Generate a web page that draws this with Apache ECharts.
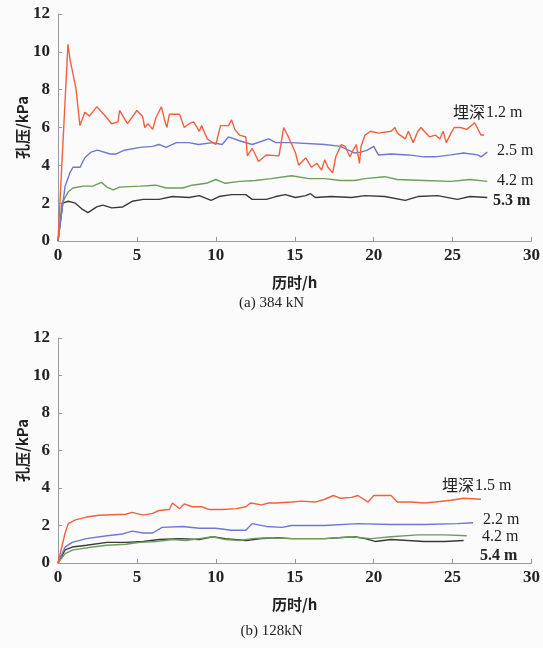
<!DOCTYPE html>
<html><head><meta charset="utf-8">
<script src="https://cdn.jsdelivr.net/npm/echarts@6/dist/echarts.min.js"></script>
<style>html,body{margin:0;padding:0;background:#fbfbfb}#c{width:543px;height:648px}</style>
</head><body><div id="c"></div>
<script>
// (a) 384 kN  — [time h, pore pressure kPa]
const a_12m = [[0,0],[0.63,10.4],[0.76,9.6],[1.13,8.1],[1.39,6.1],[1.7,6.8],[2.0,6.6],[2.46,7.1],[2.9,6.7],[3.4,6.2],[3.8,6.3],[3.9,6.9],[4.4,6.2],[5.0,6.9],[5.35,6.6],[5.5,6.0],[5.7,6.2],[6.0,5.9],[6.2,6.5],[6.55,7.1],[6.75,6.4],[6.9,6.0],[7.05,6.7],[7.7,6.7],[8.0,6.0],[8.3,6.2],[8.6,6.3],[8.95,5.8],[9.1,6.1],[9.45,5.4],[10.0,5.1],[10.3,6.1],[10.8,6.1],[11.0,6.4],[11.2,5.9],[11.5,5.6],[11.9,5.5],[12.0,4.5],[12.3,4.9],[12.6,4.4],[12.7,4.2],[13.2,4.55],[14.0,4.5],[14.3,6.0],[14.6,5.5],[15.05,4.65],[15.25,4.0],[15.7,4.4],[16.05,3.9],[16.4,4.1],[16.7,3.75],[16.9,4.3],[17.1,3.9],[17.4,3.6],[17.6,4.45],[17.95,5.1],[18.2,5.0],[18.5,4.45],[18.7,4.8],[18.9,5.1],[19.1,4.1],[19.2,5.0],[19.45,5.6],[19.8,5.8],[20.3,5.7],[21.1,5.8],[21.35,6.0],[21.5,5.7],[22.0,5.4],[22.2,5.8],[22.5,5.2],[22.8,5.8],[23.0,6.0],[23.2,5.8],[23.55,5.5],[23.9,5.6],[24.2,5.4],[24.4,5.8],[24.6,5.2],[24.9,5.7],[25.1,6.0],[25.5,6.0],[25.9,5.9],[26.4,6.25],[26.8,5.6],[27.0,5.6]];
const a_25m = [[0,0],[0.45,2.9],[0.75,3.6],[0.95,3.9],[1.4,3.9],[1.7,4.4],[2.1,4.7],[2.5,4.8],[3.3,4.6],[3.7,4.6],[4.2,4.8],[5.2,4.95],[6.0,5.0],[6.4,5.1],[6.85,4.95],[7.5,5.2],[8.3,5.2],[8.9,5.1],[9.8,5.2],[10.4,5.1],[10.8,5.5],[11.5,5.3],[12.3,5.1],[13.35,5.4],[13.8,5.2],[14.8,5.2],[16.9,5.1],[17.9,5.0],[18.8,4.65],[19.2,4.7],[19.6,4.8],[20.0,5.0],[20.3,4.55],[21.1,4.6],[22.2,4.55],[23.2,4.45],[23.9,4.45],[24.9,4.55],[25.7,4.65],[26.6,4.55],[26.8,4.45],[27.2,4.7]];
const a_42m = [[0,0],[0.25,2.0],[0.65,2.6],[0.95,2.8],[1.6,2.9],[2.2,2.9],[2.75,3.1],[3.1,2.85],[3.5,2.7],[3.9,2.85],[5.2,2.9],[6.2,2.95],[6.85,2.8],[7.9,2.8],[8.5,2.95],[9.4,3.05],[10.0,3.25],[10.6,3.05],[11.5,3.15],[12.5,3.2],[13.5,3.3],[14.8,3.45],[15.9,3.3],[16.9,3.3],[17.9,3.2],[18.8,3.2],[19.45,3.3],[20.7,3.4],[21.5,3.25],[23.2,3.2],[24.9,3.15],[26.1,3.25],[27.2,3.15]];
const a_53m = [[0,0],[0.3,2.0],[0.65,2.1],[1.1,2.0],[1.5,1.7],[1.9,1.5],[2.45,1.8],[2.85,1.9],[3.4,1.75],[4.1,1.8],[4.7,2.1],[5.4,2.2],[6.4,2.2],[7.25,2.35],[8.3,2.3],[8.95,2.4],[9.7,2.15],[10.2,2.35],[11.0,2.45],[11.9,2.45],[12.3,2.2],[13.2,2.2],[13.8,2.35],[14.4,2.45],[15.05,2.3],[15.7,2.4],[16.0,2.5],[16.3,2.3],[17.3,2.35],[18.6,2.3],[19.45,2.4],[20.7,2.35],[22.0,2.15],[22.8,2.35],[24.05,2.4],[25.3,2.2],[26.1,2.35],[27.2,2.3]];
// (b) 128 kN
const b_15m = [[0,0],[0.45,1.6],[0.65,2.1],[1.1,2.3],[1.8,2.45],[2.6,2.55],[4.3,2.6],[4.7,2.7],[5.4,2.55],[6.0,2.65],[6.4,2.8],[7.05,2.85],[7.25,3.2],[7.7,2.9],[8.0,3.15],[8.5,3.0],[9.1,3.0],[9.6,2.85],[10.4,2.85],[11.3,2.9],[11.9,3.0],[12.2,3.2],[12.9,3.1],[13.35,3.2],[13.8,3.2],[14.8,3.25],[15.45,3.3],[16.3,3.25],[16.9,3.4],[17.45,3.6],[17.9,3.45],[18.6,3.5],[19.0,3.6],[19.65,3.25],[20.0,3.6],[20.7,3.6],[21.1,3.6],[21.5,3.25],[22.4,3.25],[23.2,3.2],[23.9,3.25],[24.9,3.35],[25.7,3.45],[26.8,3.4]];
const b_22m = [[0,0],[0.45,0.85],[0.9,1.1],[1.8,1.3],[3.1,1.45],[4.1,1.55],[4.7,1.7],[5.4,1.6],[6.0,1.6],[6.6,1.9],[7.9,1.95],[8.95,1.85],[10.0,1.85],[11.0,1.75],[11.9,1.75],[12.3,2.1],[13.2,1.95],[14.2,1.9],[14.8,2.0],[16.9,2.0],[19.0,2.1],[21.1,2.05],[23.2,2.05],[25.3,2.1],[26.3,2.15]];
const b_42m = [[0,0],[0.45,0.5],[0.95,0.7],[2.2,0.85],[3.1,0.95],[4.3,1.0],[5.2,1.1],[6.2,1.15],[7.25,1.25],[8.1,1.2],[8.95,1.3],[9.8,1.4],[10.6,1.25],[11.5,1.2],[12.3,1.3],[13.2,1.35],[14.8,1.3],[16.9,1.3],[18.6,1.4],[19.8,1.3],[21.1,1.4],[22.8,1.5],[24.5,1.5],[25.9,1.45]];
const b_54m = [[0,0],[0.45,0.7],[0.9,0.85],[1.8,0.95],[3.1,1.1],[4.3,1.1],[5.4,1.15],[6.4,1.25],[7.7,1.3],[8.95,1.25],[9.8,1.4],[10.6,1.3],[11.9,1.2],[12.9,1.3],[13.9,1.35],[14.8,1.3],[16.9,1.3],[18.8,1.4],[19.45,1.3],[20.1,1.15],[21.1,1.25],[23.2,1.15],[24.5,1.15],[25.7,1.2]];
const yTicks = [0,2,4,6,8,10,12];
const xTicks = [0,5,10,15,20,25,30];

const serif = '"Liberation Serif","Times New Roman",serif';
const cjk = '"Noto Sans CJK SC",sans-serif';
const C = {red:'#f2603f', blue:'#6e78d4', green:'#6e9c5f', black:'#3a3a3a'};

function xAx(i){return {type:'value',gridIndex:i,min:xTicks[0],max:xTicks[xTicks.length-1],interval:5,
  axisLine:{lineStyle:{color:'#9a9a9a',width:1}},axisTick:{inside:true,length:4,lineStyle:{color:'#9a9a9a'}},
  splitLine:{show:false},axisLabel:{color:'#222',fontFamily:serif,fontSize:17,fontWeight:'bold',margin:6},
  name:'历时/h',nameLocation:'middle',nameGap:34,nameTextStyle:{color:'#222',fontFamily:cjk,fontSize:15,fontWeight:'bold'}};}
function yAx(i){return {type:'value',gridIndex:i,min:yTicks[0],max:yTicks[yTicks.length-1],interval:2,
  axisLine:{show:true,lineStyle:{color:'#9a9a9a',width:1}},axisTick:{show:true,inside:true,length:4,lineStyle:{color:'#9a9a9a'}},
  splitLine:{show:false},axisLabel:{color:'#222',fontFamily:serif,fontSize:17,fontWeight:'bold',margin:8},
  name:'孔压/kPa',nameLocation:'middle',nameGap:28,nameMoveOverlap:false,nameTextStyle:{color:'#222',fontFamily:cjk,fontSize:15,fontWeight:'bold'}};}
function ser(d,c,i){return {type:'line',xAxisIndex:i,yAxisIndex:i,data:d,showSymbol:false,symbol:'none',
  lineStyle:{color:c,width:1.4},itemStyle:{color:c},z:c===C.red?5:3,animation:false};}
function txt(x,y,t,bold){return {type:'text',left:x,top:y,style:{text:t,fill:'#222',font:(bold?'bold ':'')+'16px '+serif}};}

const chart = echarts.init(document.getElementById('c'));
chart.setOption({
  backgroundColor:'#fbfbfb', animation:false,
  grid:[{left:58,right:9,top:14,height:227},{left:58,right:9,top:338,height:225}],
  xAxis:[xAx(0),xAx(1)], yAxis:[yAx(0),yAx(1)],
  series:[ser(a_53m,C.black,0),ser(a_42m,C.green,0),ser(a_25m,C.blue,0),ser(a_12m,C.red,0),
          ser(b_54m,C.black,1),ser(b_42m,C.green,1),ser(b_22m,C.blue,1),ser(b_15m,C.red,1)],
  graphic:[
    {type:'text',left:453,top:104,style:{text:'埋深',fill:'#222',font:'16px '+cjk}},
    txt(486,105,'1.2 m'), txt(497,143,'2.5 m'), txt(497,173,'4.2 m'), txt(493,193,'5.3 m',true),
    {type:'text',left:442,top:477,style:{text:'埋深',fill:'#222',font:'16px '+cjk}},
    txt(475,478,'1.5 m'), txt(483,512,'2.2 m'), txt(482,529,'4.2 m'), txt(480,548,'5.4 m',true),
    {type:'text',left:'center',top:296,style:{text:'(a) 384 kN',fill:'#222',font:'15px '+serif}},
    {type:'text',left:'center',top:624,style:{text:'(b) 128kN',fill:'#222',font:'15px '+serif}}
  ]
});
</script></body></html>
